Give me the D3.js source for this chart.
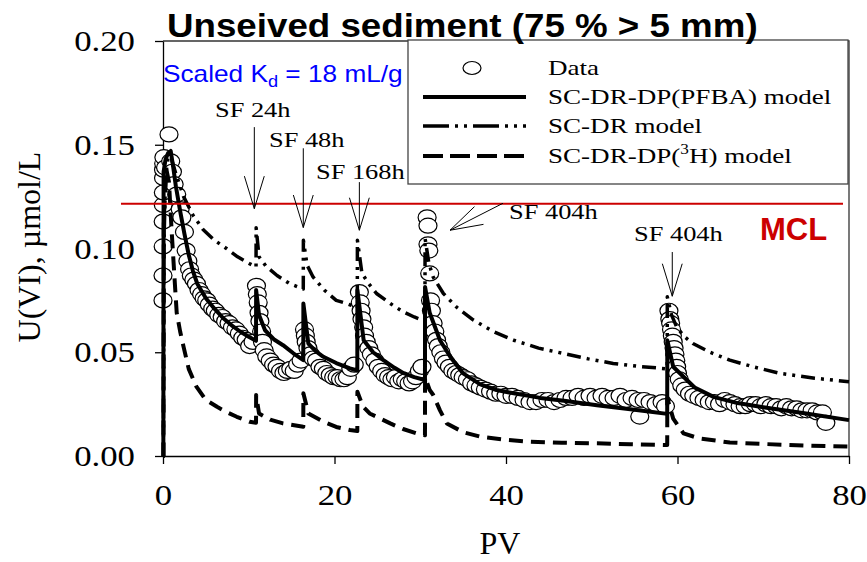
<!DOCTYPE html>
<html>
<head>
<meta charset="utf-8">
<script src="https://cdn.jsdelivr.net/npm/d3@7"></script>
<style>
  body { margin: 0; background: #fff; }
</style>
</head>
<body>
<div id="wrapper"></div>
<script>
// ---- data ----
const xTicks = [0, 20, 40, 60, 80];
const yTicks = [0, 0.05, 0.10, 0.15, 0.20];

const mclLevel = 0.1216;
const mclSpan = [-4.9, 79.3];

const legendNames = ["Data", "SC-DR-DP(PFBA) model", "SC-DR model", "SC-DR-DP(3H) model"];

// observed U(VI) [PV, umol/L]
const observed = [
  [0.0,0.075],[0.0,0.087],[0.02,0.101],[0.02,0.113],[0.04,0.121],[0.04,0.127],[0.06,0.134],
  [0.06,0.138],[0.08,0.141],[0.1,0.144],[0.3,0.139],[0.7,0.155],[0.9,0.142],[1.1,0.137],
  [1.3,0.131],[1.6,0.126],[2.0,0.119],[2.2,0.115],[2.5,0.108],[2.7,0.099],[2.9,0.094],
  [3.1,0.090],[3.3,0.087],[3.6,0.085],[3.9,0.083],[4.2,0.080],[4.5,0.078],[4.8,0.076],
  [5.1,0.075],[5.4,0.073],[5.8,0.071],[6.1,0.070],[6.5,0.068],[6.9,0.067],[7.3,0.065],
  [7.7,0.064],[8.1,0.062],[8.5,0.061],[8.9,0.059],[9.3,0.057],[9.7,0.056],[10.1,0.053],
  [10.5,0.055],
  [10.9,0.082],[11.0,0.078],[11.1,0.074],[11.2,0.069],[11.3,0.065],[11.5,0.060],[11.6,0.055],
  [11.8,0.051],[12.1,0.048],[12.5,0.046],[12.9,0.044],[13.3,0.043],[13.7,0.041],[14.1,0.040],
  [14.5,0.041],[14.9,0.042],[15.3,0.041],[15.7,0.044],[16.1,0.046],
  [16.5,0.061],[16.6,0.058],[16.7,0.055],[16.9,0.052],[17.2,0.049],[17.5,0.047],[17.9,0.046],
  [18.3,0.043],[18.7,0.042],[19.1,0.040],[19.5,0.039],[19.9,0.038],[20.3,0.038],[20.7,0.037],
  [21.1,0.037],[21.5,0.038],[21.9,0.042],[22.3,0.044],
  [22.9,0.079],[23.0,0.074],[23.1,0.070],[23.2,0.066],[23.4,0.062],[23.5,0.058],[23.7,0.055],
  [24.0,0.052],[24.3,0.049],[24.7,0.046],[25.1,0.043],[25.5,0.041],[25.9,0.039],[26.3,0.038],
  [26.7,0.037],[27.1,0.038],[27.5,0.036],[27.9,0.037],[28.3,0.036],[28.7,0.035],[29.1,0.036],
  [29.5,0.038],[29.9,0.041],[30.2,0.043],
  [30.8,0.115],[30.9,0.111],[30.9,0.102],[31.0,0.099],[31.1,0.088],[31.2,0.075],[31.3,0.070],
  [31.5,0.064],[31.7,0.060],[31.9,0.056],[32.1,0.053],[32.4,0.050],[32.7,0.047],[33.0,0.045],
  [33.4,0.043],[33.8,0.041],[34.2,0.040],[34.6,0.039],[35.0,0.038],[35.5,0.037],[36.0,0.035],
  [36.5,0.034],[37.0,0.033],[37.6,0.032],[38.2,0.031],[38.8,0.030],[39.4,0.030],[40.0,0.029],
  [40.7,0.029],[41.4,0.028],[42.1,0.027],[42.8,0.026],[43.5,0.026],[44.2,0.027],[44.9,0.027],
  [45.6,0.026],[46.3,0.027],[47.0,0.028],[47.7,0.028],[48.4,0.029],[49.1,0.028],[49.8,0.029],
  [50.5,0.028],[51.2,0.029],[51.9,0.028],[52.6,0.028],[53.3,0.029],[54.0,0.027],[54.7,0.028],
  [55.4,0.027],[55.6,0.019],[56.1,0.027],[56.8,0.026],[57.5,0.025],[58.2,0.026],[58.6,0.024],
  [59.0,0.070],[59.1,0.066],[59.2,0.064],[59.3,0.061],[59.4,0.058],[59.5,0.055],[59.6,0.052],
  [59.7,0.049],[59.8,0.046],[59.9,0.043],[60.0,0.040],[60.2,0.037],[60.5,0.034],[60.9,0.032],
  [61.4,0.030],[61.9,0.029],[62.5,0.028],[63.1,0.027],[63.7,0.026],[64.3,0.026],[64.9,0.025],
  [65.5,0.027],[66.1,0.026],[66.7,0.025],[67.3,0.024],[67.9,0.024],[68.5,0.025],[69.1,0.025],
  [69.7,0.024],[70.3,0.025],[70.9,0.024],[71.5,0.024],[72.1,0.023],[72.7,0.024],[73.3,0.023],
  [73.9,0.023],[74.5,0.022],[75.1,0.022],[75.7,0.022],[76.3,0.021],[76.9,0.021],[77.3,0.016]
];

// SC-DR-DP(PFBA) model
const pfbaModel = [
  [0,0],[0.04,0],[0.07,0.137],[0.3,0.143],[0.6,0.146],[0.9,0.147],[1.2,0.139],[1.5,0.130],
  [2.0,0.118],[2.5,0.107],[3.0,0.097],[3.5,0.089],[4.0,0.083],[5.0,0.076],[6.0,0.071],
  [7.0,0.0665],[8.0,0.063],[9.0,0.060],[10.0,0.0575],[10.85,0.0555],
  [10.86,0.080],[11.2,0.068],[11.9,0.0606],[13.0,0.056],[14.0,0.0534],[15.2,0.0495],[16.36,0.0462],
  [16.37,0.0735],[16.95,0.0542],[17.8,0.0505],[18.7,0.0478],[20.2,0.0448],[21.8,0.0422],[22.66,0.0412],
  [22.67,0.080],[23.4,0.0558],[24.5,0.050],[25.7,0.0462],[27.0,0.0425],[28.0,0.0400],[29.3,0.0380],
  [30.55,0.0366],
  [30.56,0.0815],[31.1,0.069],[32.3,0.0558],[33.5,0.0478],[35.0,0.0398],[37.0,0.0345],[38.9,0.0318],
  [40.9,0.0302],[44.0,0.0280],[47.0,0.0265],[50.6,0.0245],[54.5,0.0225],[58.8,0.0203],
  [58.81,0.0558],[59.5,0.043],[60.7,0.0382],[62.0,0.033],[64.2,0.0285],[67.0,0.0255],[70.0,0.0235],
  [75.0,0.0205],[80.0,0.0173]
];

// SC-DR model
const scdrModel = [
  [0,0],[0.05,0],[0.1,0.100],[0.3,0.135],[0.6,0.144],[1.0,0.143],[1.5,0.136],[2.4,0.125],
  [3.5,0.116],[4.7,0.109],[6.0,0.104],[7.4,0.100],[8.7,0.096],[10.1,0.0927],[10.85,0.091],
  [10.86,0.110],[11.2,0.096],[12.0,0.0915],[13.3,0.087],[14.8,0.083],[16.36,0.0805],
  [16.37,0.104],[16.8,0.092],[17.5,0.0863],[18.8,0.080],[20.2,0.075],[21.4,0.0735],[22.66,0.0715],
  [22.67,0.104],[23.2,0.088],[24.0,0.083],[24.9,0.0783],[26.5,0.0735],[28.0,0.0695],[29.3,0.0670],
  [30.55,0.0650],
  [30.56,0.105],[31.0,0.093],[31.5,0.0863],[32.7,0.0783],[34.3,0.0715],[36.2,0.0655],[38.5,0.0600],
  [40.9,0.0558],[43.8,0.0520],[46.7,0.0494],[49.6,0.0468],[52.5,0.0446],[55.5,0.0432],[58.8,0.0420],
  [58.81,0.0767],[59.3,0.068],[59.9,0.0622],[60.8,0.0575],[61.8,0.0542],[63.8,0.050],[66.1,0.0462],
  [69.0,0.0428],[72.0,0.0398],[76.0,0.0375],[80.0,0.0358]
];

// SC-DR-DP(3H) model
const tritiumModel = [
  [0,0],[0.05,0],[0.1,0.115],[0.4,0.138],[0.7,0.132],[1.0,0.109],[1.4,0.082],[1.6,0.069],
  [2.0,0.060],[2.4,0.0526],[3.0,0.042],[3.9,0.0334],[5.0,0.027],[6.3,0.0237],[7.5,0.021],
  [8.6,0.0189],[10.1,0.0165],[10.85,0.016],
  [10.86,0.0294],[11.2,0.0205],[12.5,0.0175],[14.0,0.0157],[16.36,0.0141],
  [16.37,0.0302],[16.95,0.0205],[18.7,0.0165],[20.2,0.014],[21.8,0.0125],[22.66,0.012],
  [22.67,0.031],[23.3,0.024],[24.1,0.0205],[26.5,0.0157],[28.0,0.013],[29.6,0.0109],[30.55,0.0100],
  [30.56,0.038],[31.1,0.0318],[31.5,0.0295],[32.3,0.022],[33.1,0.0157],[35.0,0.0115],[37.0,0.0093],
  [40.0,0.0078],[42.8,0.0069],[46.5,0.0064],[50.6,0.0061],[54.5,0.0057],[58.8,0.0053],
  [58.81,0.028],[59.5,0.018],[60.7,0.0109],[62.5,0.0085],[66.1,0.0065],[70.0,0.0058],
  [75.0,0.0050],[80.0,0.0045]
];

// stop-flow notes: label anchor, arrow tail and tip, all in data units
const stopFlowNotes = [
  {label: "SF 24h",  at: [6.06, 0.1632],  from: [10.65, 0.1585], tip: [10.65, 0.1192]},
  {label: "SF 48h",  at: [12.36, 0.1487], from: [16.36, 0.1483], tip: [16.36, 0.1101]},
  {label: "SF 168h", at: [17.84, 0.1333], from: [22.9, 0.132],   tip: [22.9, 0.1088]},
  {label: "SF 404h", at: [40.35, 0.1141], from: [39.65, 0.1218], tip: [33.47, 0.1088]},
  {label: "SF 404h", at: [54.93, 0.1035], from: [59.39, 0.0983], tip: [59.39, 0.0770]}
];

// ---- drawing ----
const serif = "'Liberation Serif','Times New Roman',Times,serif";
const sans = "'Liberation Sans',Arial,Helvetica,sans-serif";

var dimension = {
  width: 867,
  height: 562,
  margin: {top: 41, right: 18, bottom: 106, left: 163}
};
dimension.boundedWidth = dimension.width - dimension.margin.left - dimension.margin.right;
dimension.boundedHeight = dimension.height - dimension.margin.top - dimension.margin.bottom;

const svg = d3.select("#wrapper")
  .append("svg")
  .attr("width", dimension.width)
  .attr("height", dimension.height);

const x = d3.scaleLinear().domain([0, 80])
  .range([dimension.margin.left, dimension.margin.left + dimension.boundedWidth]);
const y = d3.scaleLinear().domain([0, 0.2])
  .range([dimension.margin.top + dimension.boundedHeight, dimension.margin.top]);

// text that looks horizontally stretched in the original
function stretchedText(parent, px, py, str, size, family, sx) {
  return parent.append("text")
    .attr("transform", `translate(${px},${py}) scale(${sx},1)`)
    .style("font-family", family)
    .style("font-size", size + "px")
    .text(str);
}

// frame (top and right)
svg.append("path")
  .attr("d", `M${x(0)},${y(0.2)}H${x(80)}V${y(0)}`)
  .attr("fill", "none")
  .attr("stroke", "#333")
  .attr("stroke-width", 1.3);

// axes
const xAxis = svg.append("g")
  .attr("transform", `translate(0,${y(0)})`)
  .call(d3.axisBottom(x).tickValues(xTicks).tickSize(8).tickSizeOuter(0).tickFormat(d3.format("d")));
xAxis.selectAll("text")
  .attr("y", 0).attr("dy", null)
  .attr("transform", "translate(0,49) scale(1.22,1)")
  .style("font-family", serif).style("font-size", "28.5px").attr("fill", "#000");

const yAxis = svg.append("g")
  .attr("transform", `translate(${x(0)},0)`)
  .call(d3.axisLeft(y).tickValues(yTicks).tickSize(8).tickSizeOuter(0).tickFormat(d3.format(".2f")));
yAxis.selectAll("text")
  .attr("x", 0).attr("dy", "0.34em")
  .attr("transform", "translate(-28,0) scale(1.22,1)")
  .style("font-family", serif).style("font-size", "28.5px").attr("fill", "#000");

svg.selectAll(".domain, .tick line").attr("stroke", "#000").attr("stroke-width", 1.3);

// observed data
svg.append("g").selectAll("ellipse.obs")
  .data(observed)
  .enter()
  .append("ellipse")
  .attr("class", "obs")
  .attr("cx", d => x(d[0]))
  .attr("cy", d => y(d[1]))
  .attr("rx", 9)
  .attr("ry", 7.5)
  .attr("fill", "#fff")
  .attr("stroke", "#000")
  .attr("stroke-width", 1.2);

// model curves
const line = d3.line().x(d => x(d[0])).y(d => y(d[1]));
const modelStyles = [
  {data: tritiumModel, width: 4, dash: "14,8"},
  {data: scdrModel, width: 3.5, dash: "14,6,3,6,3,6"},
  {data: pfbaModel, width: 4, dash: null}
];
modelStyles.forEach(m => {
  svg.append("path")
    .datum(m.data)
    .attr("d", line)
    .attr("fill", "none")
    .attr("stroke", "#000")
    .attr("stroke-width", m.width)
    .attr("stroke-dasharray", m.dash)
    .attr("stroke-linejoin", "round");
});

// MCL
svg.append("line")
  .attr("x1", x(mclSpan[0])).attr("x2", x(mclSpan[1]))
  .attr("y1", y(mclLevel)).attr("y2", y(mclLevel))
  .attr("stroke", "#cc0000")
  .attr("stroke-width", 2);
svg.append("text")
  .attr("x", 760).attr("y", 240)
  .style("font-family", sans).style("font-size", "31px").style("font-weight", "bold")
  .attr("fill", "#cc0000")
  .text("MCL");

// stop-flow arrows
const notes = svg.append("g");
stopFlowNotes.forEach(n => {
  const tx = x(n.tip[0]), ty = y(n.tip[1]);
  const fx = x(n.from[0]), fy = y(n.from[1]);
  const ang = Math.atan2(fy - ty, fx - tx);
  const len = 34, spread = 17 * Math.PI / 180;
  let d = `M${fx},${fy}L${tx},${ty}`;
  [-spread, spread].forEach(s => {
    d += `M${tx},${ty}L${tx + len * Math.cos(ang + s)},${ty + len * Math.sin(ang + s)}`;
  });
  notes.append("path").attr("d", d).attr("fill", "none").attr("stroke", "#000").attr("stroke-width", 1);
  stretchedText(notes, x(n.at[0]), y(n.at[1]), n.label, 22, serif, 1.2);
});

// legend
const legend = svg.append("g");
legend.append("rect")
  .attr("x", 408).attr("y", 40).attr("width", 440).attr("height", 144)
  .attr("fill", "#fff").attr("stroke", "#444").attr("stroke-width", 1.3);

const rowY = [68, 97, 126, 156];
legend.append("ellipse")
  .attr("cx", 472).attr("cy", rowY[0]).attr("rx", 9).attr("ry", 6.5)
  .attr("fill", "#fff").attr("stroke", "#000").attr("stroke-width", 1.2);
[[null, 4], ["26,6,3,6,3,6", 3.5], ["20,7", 4]].forEach((s, i) => {
  legend.append("line")
    .attr("x1", 423).attr("x2", 526)
    .attr("y1", rowY[i + 1]).attr("y2", rowY[i + 1])
    .attr("stroke", "#000").attr("stroke-width", s[1])
    .attr("stroke-dasharray", s[0]);
});
legendNames.forEach((name, i) => {
  const t = stretchedText(legend, 548, rowY[i] + 7, "", 22, serif, 1.23);
  if (name.indexOf("3H") >= 0) {
    const parts = name.split("3H");
    t.append("tspan").text(parts[0]);
    t.append("tspan").attr("dy", -9).style("font-size", "14px").text("3");
    t.append("tspan").attr("dy", 9).text("H" + parts[1]);
  } else {
    t.text(name);
  }
});

// title
stretchedText(svg, 167, 37, "Unseived sediment (75 % > 5 mm)", 34, sans, 1.08)
  .style("font-weight", "bold");

// Kd note
const kd = stretchedText(svg, 163, 82, "", 23, sans, 1.14).attr("fill", "#0000ff");
kd.append("tspan").text("Scaled K");
kd.append("tspan").attr("dy", 5).style("font-size", "16px").text("d");
kd.append("tspan").attr("dy", -5).text(" = 18 mL/g");

// axis titles
svg.append("text")
  .attr("x", 500).attr("y", 554)
  .attr("text-anchor", "middle")
  .style("font-family", serif).style("font-size", "32px")
  .text("PV");
svg.append("text")
  .attr("transform", "translate(40,247) rotate(-90)")
  .attr("text-anchor", "middle")
  .style("font-family", serif).style("font-size", "32px")
  .text("U(VI), \u00b5mol/L");
</script>
</body>
</html>
